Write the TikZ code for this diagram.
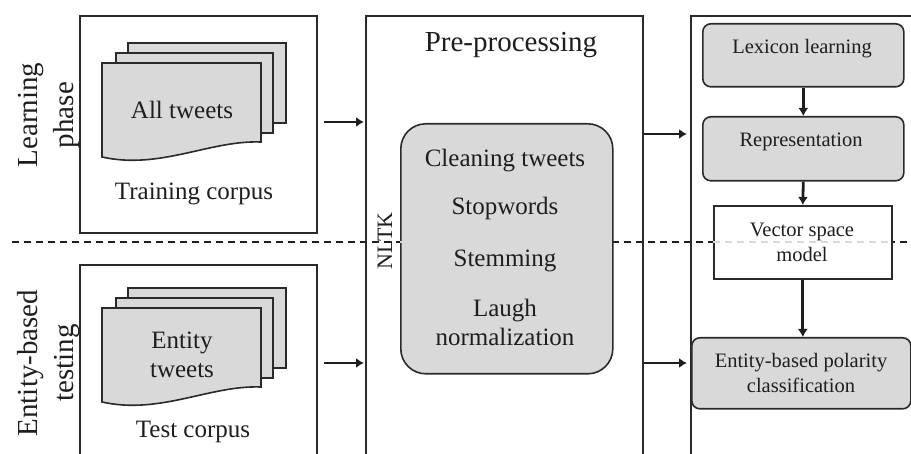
\documentclass[tikz,border=0pt]{standalone}
\usepackage{fontspec}
\setmainfont{Liberation Serif}
\usetikzlibrary{arrows.meta,calc}
\definecolor{boxgray}{HTML}{D9D9D9}
\definecolor{edge}{HTML}{2A2A2A}
\definecolor{ink}{HTML}{1E1E1E}
\begin{document}
\begin{tikzpicture}[x=1pt,y=-1pt,
  frame/.style={draw=edge,line width=1.8pt,anchor=north west,inner sep=0pt},
  sheet/.style={draw=edge,line width=1.6pt,fill=boxgray},
  graybox/.style={draw=edge,line width=1.6pt,fill=boxgray,rounded corners=8pt,anchor=north west,inner sep=0pt},
  whitebox/.style={draw=edge,line width=1.6pt,fill=white,anchor=north west,inner sep=0pt},
  arr/.style={draw=ink,line width=2.8pt,-{Latex[length=8pt,width=10pt]}},
  sep/.style={line width=1.5pt,dash pattern=on 7pt off 5pt},
  bigtxt/.style={font=\fontsize{29}{36}\selectfont,text=ink,inner sep=0pt},
  midtxt/.style={font=\fontsize{25}{29}\selectfont,text=ink,inner sep=0pt,anchor=base},
  smalltxt/.style={font=\fontsize{20.5}{25}\selectfont,text=ink,inner sep=0pt,anchor=base},
  pics/tweetstack/.style={code={
    \draw[sheet] (26,-20) rectangle (184,60);
    \draw[sheet] (14,-10) rectangle (171,70);
    \draw[sheet] (0,0) -- (159,0) -- (159,79) .. controls (108,77) and (58,107) .. (0,94) -- cycle;
  }}
]
\useasboundingbox (0,0) rectangle (911,454);
\clip (0,0) rectangle (911,454);

% separator line
\coordinate (dl) at (12,242);
\coordinate (dr) at (911,242);
\draw[sep,draw=ink] (dl) -- (dr);

% outer frames
\node[frame,minimum width=237pt,minimum height=217pt] (train) at (79,15) {};
\node[frame,minimum width=237pt,minimum height=198pt] (test) at (79,264) {};
\node[frame,minimum width=277pt,minimum height=460pt] (pre) at (365,15) {};
\node[frame,minimum width=250pt,minimum height=460pt] (right) at (690,15) {};

% side labels
\node[bigtxt,rotate=90,align=center] (learnlbl) at (49,115) {Learning\\phase};
\node[bigtxt,rotate=90,align=center] (testlbl) at (49,363) {Entity-based\\testing};

% tweet stacks
\pic at (102,63) {tweetstack};
\pic at (102,308) {tweetstack};
\node[midtxt] (alltw) at (182,119) {All tweets};
\node[midtxt] (trainc) at (194,200) {Training corpus};
\node[midtxt] (enttw1) at (182,349) {Entity};
\node[midtxt] (enttw2) at (182,378) {tweets};
\node[midtxt] (testc) at (193,438) {Test corpus};

% pre-processing
\node[bigtxt,anchor=base] (pretitle) at (511,52) {Pre-processing};
\node[draw=edge,line width=1.6pt,fill=boxgray,rounded corners=25pt,anchor=north west,inner sep=0pt,minimum width=212pt,minimum height=250pt] (steps) at (400,123) {};
\node[midtxt] (s1) at (505,167) {Cleaning tweets};
\node[midtxt] (s2) at (505,215) {Stopwords};
\node[midtxt] (s3) at (505,267) {Stemming};
\node[midtxt] (s4) at (505,317) {Laugh};
\node[midtxt] (s5) at (505,346) {normalization};
\node[font=\fontsize{22}{26}\selectfont,text=ink,inner sep=0pt,rotate=90,anchor=base] (nltk) at (392,241) {NLTK};

% right column
\node[graybox,minimum width=201pt,minimum height=63pt] (lex) at (702,23) {};
\node[smalltxt] (lext) at (802,54) {Lexicon learning};
\node[graybox,minimum width=201pt,minimum height=64pt] (rep) at (702,116) {};
\node[smalltxt] (rept) at (801,147) {Representation};
\node[whitebox,minimum width=178pt,minimum height=73pt] (vsm) at (713,205) {};
\node[smalltxt] (vsmt1) at (802,237) {Vector space};
\node[smalltxt] (vsmt2) at (802,262) {model};
\node[graybox,minimum width=219pt,minimum height=71pt] (ebpc) at (691,337) {};
\node[smalltxt] (ebpct1) at (801,368) {Entity-based polarity};
\node[smalltxt] (ebpct2) at (801,393) {classification};

% faint separator across filled boxes
\draw[sep,draw=black!15] (steps.west |- dl) -- (steps.east |- dl);
\draw[sep,draw=black!15] (vsm.west |- dl) -- (vsm.east |- dl);

% connectors
\coordinate (ya) at (0,122);
\coordinate (yb) at (0,363);
\coordinate (yc) at (0,134);
\draw[arr] ($(train.east |- ya)+(6,0)$) -- ($(pre.west |- ya)+(-1,0)$);
\draw[arr] ($(test.east |- yb)+(6,0)$) -- ($(pre.west |- yb)+(-1,0)$);
\draw[arr] (pre.east |- yc) -- ($(right.west |- yc)+(-3,0)$);
\draw[arr] (pre.east |- yb) -- ($(right.west |- yb)+(-3,0)$);
\draw[arr] (lex.south) -- (rep.north);
\draw[arr] (rep.south) -- (vsm.north);
\draw[arr] (vsm.south) -- (ebpc.north -| vsm.south);
\end{tikzpicture}
\end{document}
